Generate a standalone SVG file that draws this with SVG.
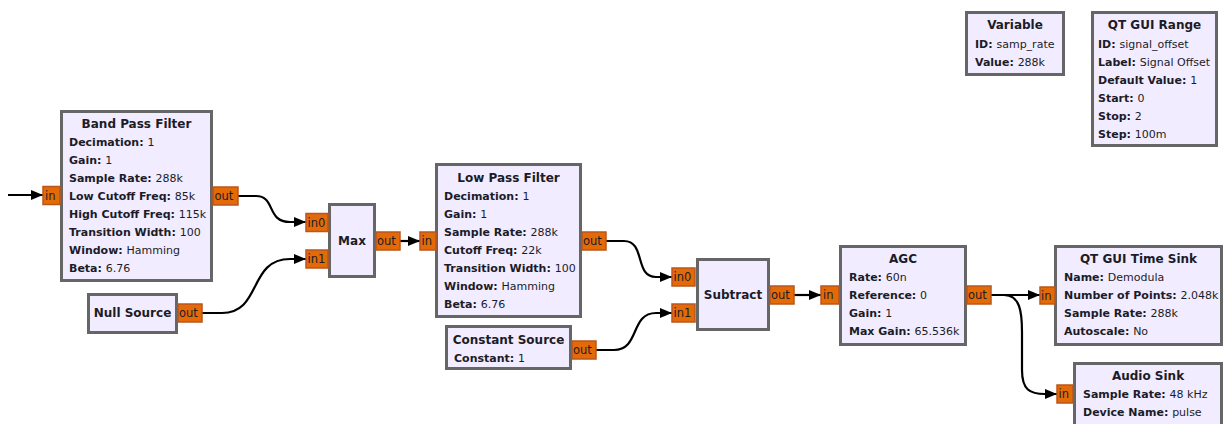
<svg xmlns="http://www.w3.org/2000/svg" width="1225" height="424" viewBox="0 0 1225 424">
<defs>
<marker id="arr" markerWidth="12" markerHeight="10" refX="12" refY="5" orient="auto" markerUnits="userSpaceOnUse">
<path d="M0,0 L12,5 L0,10 Z" fill="#000"/>
</marker>
<style>
text{font-family:"DejaVu Sans","Liberation Sans",sans-serif;font-size:11px;fill:#1c1c28}
.b{fill:#F1ECFF;stroke:#666;stroke-width:3}
.p{fill:#E46A08;stroke:#B9561C;stroke-width:1.5}
.t{font-weight:bold;text-anchor:middle;font-size:12px}
.k{font-weight:bold}
.v{font-weight:normal}
.pl{font-size:11.5px}
.c{fill:none;stroke:#000;stroke-width:2.2;marker-end:url(#arr)}
</style>
</defs>
<rect width="1225" height="424" fill="#fff"/>
<g id="connectors">
<path class="c" d="M8,195 H43"/>
<path class="c" d="M238,196 H256 C276,196 266,222 290,222 H306"/>
<path class="c" d="M202,313 H222 C262,313 248,259 290,259 H306"/>
<path class="c" d="M400,241 H420"/>
<path class="c" d="M606,241 H624 C646,241 634,277 656,277 H672"/>
<path class="c" d="M596,350 H614 C640,350 630,313 656,313 H672"/>
<path class="c" d="M794,295 H821"/>
<path class="c" d="M991,295 H1040"/>
<path class="c" d="M991,295 H1004 C1020,295 1022,312 1022,332 V370 C1022,390 1030,394 1045,394 H1057"/>
</g>
<g id="bandpass">
<rect class="b" x="61.5" y="111.5" width="150" height="169"/>
<text class="t" x="136.5" y="128">Band Pass Filter</text>
<text class="k" x="69" y="146">Decimation: <tspan class="v">1</tspan></text>
<text class="k" x="69" y="164">Gain: <tspan class="v">1</tspan></text>
<text class="k" x="69" y="182">Sample Rate: <tspan class="v">288k</tspan></text>
<text class="k" x="69" y="200">Low Cutoff Freq: <tspan class="v">85k</tspan></text>
<text class="k" x="69" y="218">High Cutoff Freq: <tspan class="v">115k</tspan></text>
<text class="k" x="69" y="236">Transition Width: <tspan class="v">100</tspan></text>
<text class="k" x="69" y="254">Window: <tspan class="v">Hamming</tspan></text>
<text class="k" x="69" y="272">Beta: <tspan class="v">6.76</tspan></text>
<rect class="p" x="43" y="186.5" width="17" height="18"/>
<text class="pl" x="45" y="199.5">in</text>
<rect class="p" x="213" y="187" width="25" height="18"/>
<text class="pl" x="214.5" y="200">out</text>
</g>
<g id="nullsource">
<rect class="b" x="88.5" y="294.5" width="88" height="38"/>
<text class="t" x="132.5" y="317">Null Source</text>
<rect class="p" x="178" y="304" width="24" height="18"/>
<text class="pl" x="179" y="317">out</text>
</g>
<g id="max">
<rect class="b" x="329.5" y="204.5" width="45" height="72"/>
<text class="t" x="352" y="245">Max</text>
<rect class="p" x="306" y="213.5" width="22" height="18"/>
<text class="pl" x="307.5" y="226.5">in0</text>
<rect class="p" x="306" y="250" width="22" height="18"/>
<text class="pl" x="307.5" y="263">in1</text>
<rect class="p" x="376" y="232" width="24" height="18"/>
<text class="pl" x="377" y="245">out</text>
</g>
<g id="lowpass">
<rect class="b" x="436.5" y="164.5" width="144" height="152"/>
<text class="t" x="508.5" y="182">Low Pass Filter</text>
<text class="k" x="444" y="200">Decimation: <tspan class="v">1</tspan></text>
<text class="k" x="444" y="218">Gain: <tspan class="v">1</tspan></text>
<text class="k" x="444" y="236">Sample Rate: <tspan class="v">288k</tspan></text>
<text class="k" x="444" y="254">Cutoff Freq: <tspan class="v">22k</tspan></text>
<text class="k" x="444" y="272">Transition Width: <tspan class="v">100</tspan></text>
<text class="k" x="444" y="290">Window: <tspan class="v">Hamming</tspan></text>
<text class="k" x="444" y="308">Beta: <tspan class="v">6.76</tspan></text>
<rect class="p" x="420" y="232" width="16" height="18"/>
<text class="pl" x="421.5" y="245">in</text>
<rect class="p" x="582" y="232" width="24" height="18"/>
<text class="pl" x="583" y="245">out</text>
</g>
<g id="constsource">
<rect class="b" x="446.5" y="326.5" width="124" height="42"/>
<text class="t" x="508.5" y="344">Constant Source</text>
<text class="k" x="454" y="362">Constant: <tspan class="v">1</tspan></text>
<rect class="p" x="572" y="341" width="24" height="18"/>
<text class="pl" x="573" y="354">out</text>
</g>
<g id="subtract">
<rect class="b" x="697.5" y="259.5" width="71" height="70"/>
<text class="t" x="733" y="299">Subtract</text>
<rect class="p" x="672" y="268" width="23" height="18"/>
<text class="pl" x="673.5" y="281">in0</text>
<rect class="p" x="672" y="304" width="23" height="18"/>
<text class="pl" x="673.5" y="317">in1</text>
<rect class="p" x="770" y="286" width="24" height="18"/>
<text class="pl" x="771" y="299">out</text>
</g>
<g id="agc">
<rect class="b" x="840.5" y="246.5" width="125" height="98"/>
<text class="t" x="903" y="263">AGC</text>
<text class="k" x="849" y="281">Rate: <tspan class="v">60n</tspan></text>
<text class="k" x="849" y="299">Reference: <tspan class="v">0</tspan></text>
<text class="k" x="849" y="317">Gain: <tspan class="v">1</tspan></text>
<text class="k" x="849" y="335">Max Gain: <tspan class="v">65.536k</tspan></text>
<rect class="p" x="821" y="286" width="18" height="18"/>
<text class="pl" x="823" y="299">in</text>
<rect class="p" x="967" y="286" width="24" height="18"/>
<text class="pl" x="968" y="299">out</text>
</g>
<g id="timesink">
<rect class="b" x="1055.5" y="246.5" width="166" height="98"/>
<text class="t" x="1138.5" y="263">QT GUI Time Sink</text>
<text class="k" x="1064" y="281">Name: <tspan class="v">Demodula</tspan></text>
<text class="k" x="1064" y="299">Number of Points: <tspan class="v">2.048k</tspan></text>
<text class="k" x="1064" y="317">Sample Rate: <tspan class="v">288k</tspan></text>
<text class="k" x="1064" y="335">Autoscale: <tspan class="v">No</tspan></text>
<rect class="p" x="1040" y="287" width="15" height="17"/>
<text class="pl" x="1041" y="299.5">in</text>
</g>
<g id="audiosink">
<rect class="b" x="1074.5" y="363.5" width="147" height="70"/>
<text class="t" x="1148" y="380">Audio Sink</text>
<text class="k" x="1083" y="398">Sample Rate: <tspan class="v">48 kHz</tspan></text>
<text class="k" x="1083" y="416">Device Name: <tspan class="v">pulse</tspan></text>
<rect class="p" x="1057" y="385" width="16" height="18"/>
<text class="pl" x="1058.5" y="398">in</text>
</g>
<g id="variable">
<rect class="b" x="966.5" y="12.5" width="97" height="62"/>
<text class="t" x="1015" y="29">Variable</text>
<text class="k" x="975" y="48">ID: <tspan class="v">samp_rate</tspan></text>
<text class="k" x="975" y="66">Value: <tspan class="v">288k</tspan></text>
</g>
<g id="guirange">
<rect class="b" x="1092.5" y="12.5" width="124" height="133"/>
<text class="t" x="1154.5" y="29">QT GUI Range</text>
<text class="k" x="1098" y="48">ID: <tspan class="v">signal_offset</tspan></text>
<text class="k" x="1098" y="66">Label: <tspan class="v">Signal Offset</tspan></text>
<text class="k" x="1098" y="84">Default Value: <tspan class="v">1</tspan></text>
<text class="k" x="1098" y="102">Start: <tspan class="v">0</tspan></text>
<text class="k" x="1098" y="120">Stop: <tspan class="v">2</tspan></text>
<text class="k" x="1098" y="138">Step: <tspan class="v">100m</tspan></text>
</g>
</svg>
